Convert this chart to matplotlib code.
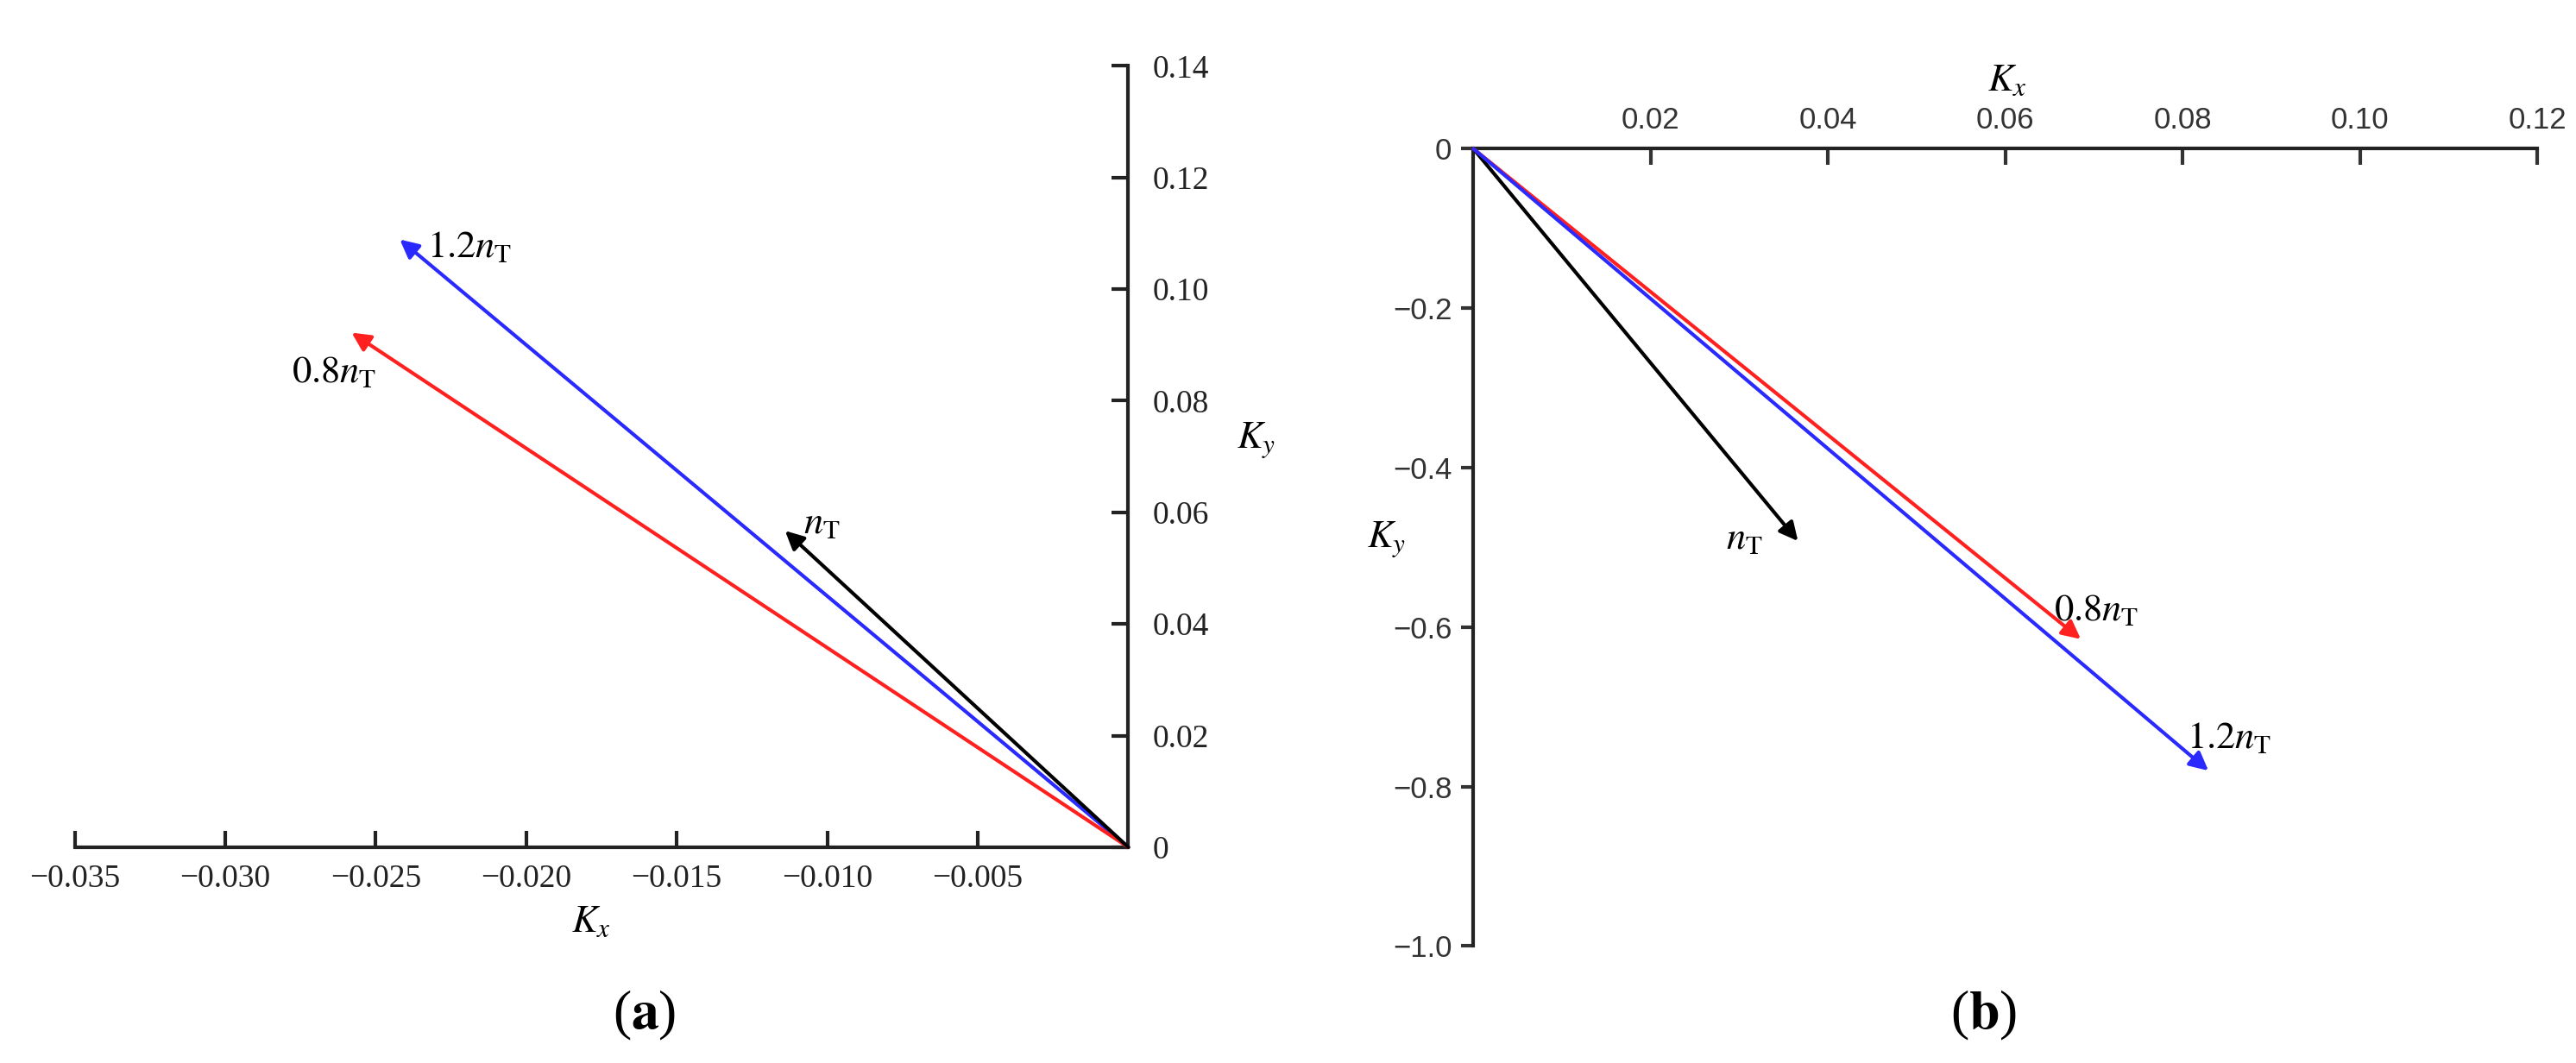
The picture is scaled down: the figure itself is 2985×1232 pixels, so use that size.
import matplotlib
matplotlib.use("Agg")
import matplotlib.pyplot as plt

plt.rcParams['mathtext.fontset'] = 'stix'
plt.rcParams['font.family'] = 'Liberation Serif'

# vector tips, panel (a)
a_names = ["1.2", "0.8", ""]
a_colors = ["#2a2aff", "#ff2020", "black"]
a_kx = [-0.0242, -0.0258, -0.0114]
a_ky = [0.1089, 0.0922, 0.0567]
a_lab_x = [-0.0233, -0.0278, -0.0108]
a_lab_y = [0.1075, 0.0850, 0.0580]
a_xticks = [-0.035, -0.030, -0.025, -0.020, -0.015, -0.010, -0.005]
a_yticks = [0, 0.02, 0.04, 0.06, 0.08, 0.10, 0.12, 0.14]

# vector tips, panel (b)
b_names = ["", "0.8", "1.2"]
b_colors = ["black", "#ff2020", "#2a2aff"]
b_kx = [0.0366, 0.0685, 0.0829]
b_ky = [-0.492, -0.615, -0.780]
b_lab_x = [0.0285, 0.0655, 0.0805]
b_lab_y = [-0.490, -0.580, -0.740]
b_xticks = [0.02, 0.04, 0.06, 0.08, 0.10, 0.12]
b_yticks = [0, -0.2, -0.4, -0.6, -0.8, -1.0]

fig = plt.figure(figsize=(29.85, 12.32), dpi=100)

def draw_vectors(ax, kx, ky, colors, names, lx, ly):
    for x, y, c, n, tx, ty in zip(kx, ky, colors, names, lx, ly):
        ax.annotate("", xy=(x, y), xytext=(0, 0),
                    arrowprops=dict(arrowstyle="-|>", color=c, lw=3,
                                    mutation_scale=32, shrinkA=0, shrinkB=0),
                    annotation_clip=False)
        ax.text(tx, ty, "$" + n + r"n_\mathrm{T}$", fontsize=32, ha="left", va="center")

# (a)
ax1 = fig.add_axes([0.029, 0.203, 0.409, 0.735])
ax1.set_xlim(-0.035, 0)
ax1.set_ylim(0, 0.14)
for s in ["top", "left"]:
    ax1.spines[s].set_visible(False)
for s in ["bottom", "right"]:
    ax1.spines[s].set_linewidth(3)
    ax1.spines[s].set_color("#222222")
ax1.yaxis.tick_right()
ax1.set_xticks(a_xticks)
ax1.set_xticklabels(["\u2212%.3f" % abs(v) for v in a_xticks])
ax1.set_yticks(a_yticks)
ax1.set_yticklabels(["0"] + ["%.2f" % v for v in a_yticks[1:]])
ax1.tick_params(direction="in", length=14, width=3, labelsize=27, pad=14, colors="#222222")
ax1.tick_params(axis="y", pad=20)
draw_vectors(ax1, a_kx, a_ky, a_colors, a_names, a_lab_x, a_lab_y)
ax1.text(-0.0185, -0.0135, r"$K_x$", fontsize=32, ha="left", va="center")
ax1.text(0.0036, 0.073, r"$K_y$", fontsize=32, ha="left", va="center")
fig.text(0.245, 0.045, "(", fontsize=46, ha="right", va="center")
fig.text(0.245, 0.045, r"$\mathbf{a}$)", fontsize=46, ha="left", va="center")

# (b)
ax2 = fig.add_axes([0.572, 0.110, 0.413, 0.750])
ax2.set_xlim(0, 0.12)
ax2.set_ylim(-1.0, 0)
for s in ["bottom", "right"]:
    ax2.spines[s].set_visible(False)
for s in ["top", "left"]:
    ax2.spines[s].set_linewidth(3)
    ax2.spines[s].set_color("#222222")
ax2.xaxis.tick_top()
ax2.set_xticks(b_xticks)
ax2.set_xticklabels(["%.2f" % v for v in b_xticks], family="Liberation Sans")
ax2.set_yticks(b_yticks)
ax2.set_yticklabels(["0"] + ["\u2212%.1f" % abs(v) for v in b_yticks[1:]], family="Liberation Sans")
ax2.tick_params(axis="x", direction="in", length=14, width=3, labelsize=25, pad=12, colors="#333333")
ax2.tick_params(axis="y", direction="out", length=10, width=3, labelsize=25, pad=8, colors="#333333")
draw_vectors(ax2, b_kx, b_ky, b_colors, b_names, b_lab_x, b_lab_y)
ax2.text(0.058, 0.085, r"$K_x$", fontsize=32, ha="left", va="center")
ax2.text(-0.012, -0.49, r"$K_y$", fontsize=32, ha="left", va="center")
fig.text(0.77, 0.045, r"($\mathbf{b}$)", fontsize=46, ha="center", va="center")

fig.savefig("out.png", dpi=100)
